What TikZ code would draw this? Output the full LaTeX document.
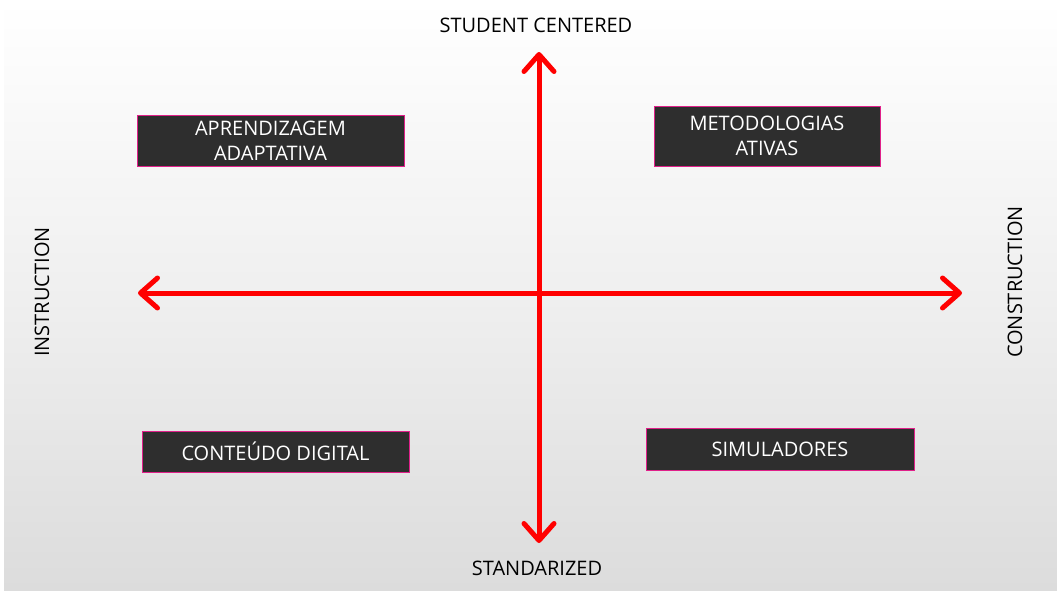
\documentclass[tikz,border=0pt]{standalone}
\usepackage{fontspec}
\setmainfont{Open Sans}
\usetikzlibrary{arrows.meta}
\definecolor{boxgray}{HTML}{2E2E2E}
\definecolor{boxpink}{HTML}{E0208A}
\definecolor{bggray}{HTML}{DCDCDC}
\definecolor{axisred}{HTML}{FF0000}
\tikzset{
	quadbox/.style={draw=boxpink, line width=0.8pt, fill=boxgray, text=white, align=center, inner sep=0pt, font=\fontsize{20}{25}\selectfont},
	axislabel/.style={text=black, font=\fontsize{20}{24}\selectfont, inner sep=0pt},
	axisline/.style={draw=axisred, line width=5pt, {Straight Barb[length=17pt, width=30pt, round]}-{Straight Barb[length=17pt, width=30pt, round]}}
}

\begin{document}
\begin{tikzpicture}[x=1pt, y=1pt]
		%%%%% START %%%%%
		
		\useasboundingbox (0, 0) rectangle (1057, 590);
		\fill[white] (0, 0) rectangle (1057, 590);
		\shade[top color=white, bottom color=bggray, middle color=white!55!bggray] (4, 0) rectangle (1057, 590);
		
		\coordinate (west) at (138, 297);
		\coordinate (east) at (962, 297);
		\coordinate (north) at (539, 538);
		\coordinate (south) at (539, 47);
		
		\draw[axisline] (west) -- (east);
		\draw[axisline] (south) -- (north);
		
		\node[axislabel] (student) at (536, 565) {STUDENT CENTERED};
		\node[axislabel] (standard) at (537, 22) {STANDARIZED};
		\node[axislabel, rotate=90] (instruction) at (42, 298) {INSTRUCTION};
		\node[axislabel, rotate=90] (construction) at (1015, 308) {CONSTRUCTION};
		
		\node[quadbox, minimum width=267pt, minimum height=51pt] (adaptive) at (270.5, 449.5) {APRENDIZAGEM\\ADAPTATIVA};
		\node[quadbox, minimum width=226pt, minimum height=60pt] (active) at (767, 454) {METODOLOGIAS\\ATIVAS};
		\node[quadbox, minimum width=267pt, minimum height=41pt] (content) at (275.5, 138.5) {CONTEÚDO DIGITAL};
		\node[quadbox, minimum width=268pt, minimum height=42pt] (simulators) at (780, 141) {SIMULADORES};
		
		%%%%% END %%%%%
\end{tikzpicture}
\end{document}
